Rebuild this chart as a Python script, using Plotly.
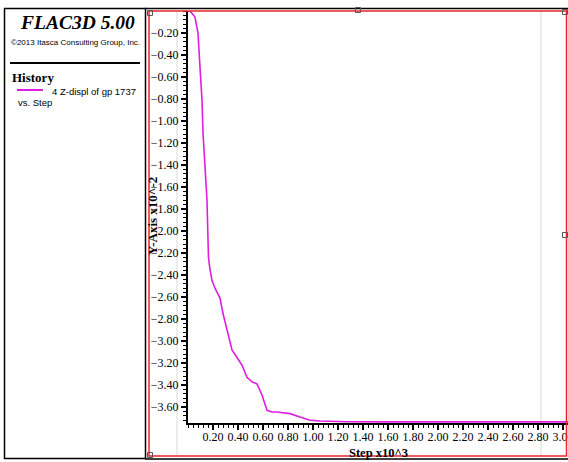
import plotly.graph_objects as go

# Data (step in 10^3, Z-displacement in 10^-2)
step_k = [0.0, 0.016, 0.056, 0.08, 0.096, 0.112, 0.12, 0.136, 0.152, 0.16, 0.164,
          0.176, 0.192, 0.216, 0.256, 0.28, 0.312, 0.352, 0.392, 0.432, 0.472,
          0.512, 0.552, 0.592, 0.632, 0.672, 0.712, 0.816, 0.896, 0.976, 1.056,
          1.272, 1.6, 2.0, 2.5, 3.04]
zdisp = [0.0, 0.0, -0.055, -0.20, -0.51, -0.81, -1.11, -1.42, -1.72, -2.08, -2.24,
         -2.35, -2.45, -2.52, -2.61, -2.75, -2.90, -3.08, -3.15, -3.22, -3.33,
         -3.37, -3.39, -3.49, -3.63, -3.645, -3.645, -3.66, -3.69, -3.72, -3.727,
         -3.734, -3.735, -3.735, -3.735, -3.735]

x_tickvals = [0.2, 0.4, 0.6, 0.8, 1.0, 1.2, 1.4, 1.6, 1.8, 2.0, 2.2, 2.4, 2.6, 2.8, 3.0]
y_tickvals = [-0.2, -0.4, -0.6, -0.8, -1.0, -1.2, -1.4, -1.6, -1.8, -2.0, -2.2, -2.4,
              -2.6, -2.8, -3.0, -3.2, -3.4, -3.6]

W, H = 568, 462
def px(x):
    return x / W
def py(y):
    return (H - y) / H

SERIF = "Liberation Serif, Times New Roman, serif"
SANS = "Liberation Sans Narrow, Arial Narrow, Liberation Sans, Arial, sans-serif"
MAG = "#e01ee0"

fig = go.Figure()
fig.add_trace(go.Scatter(x=step_k, y=zdisp, mode="lines",
                         line=dict(color=MAG, width=1.6), showlegend=False,
                         hoverinfo="skip"))

shapes = []
# faint grey vertical lines
for xx in (177, 541):
    shapes.append(dict(type="line", xref="paper", yref="paper", x0=px(xx), x1=px(xx),
                       y0=py(455), y1=py(11), line=dict(color="#d8d8d8", width=1), layer="below"))
# black frame lines
shapes.append(dict(type="rect", xref="paper", yref="paper", x0=px(4.5), x1=px(145.5),
                   y0=py(458.5), y1=py(8.5), line=dict(color="black", width=1.5)))
shapes.append(dict(type="line", xref="paper", yref="paper", x0=px(145), x1=1,
                   y0=py(8.5), y1=py(8.5), line=dict(color="black", width=1.5)))
shapes.append(dict(type="line", xref="paper", yref="paper", x0=px(145), x1=1,
                   y0=py(459), y1=py(459), line=dict(color="black", width=1.5)))
# red frame
shapes.append(dict(type="rect", xref="paper", yref="paper", x0=px(149), x1=px(566.5),
                   y0=py(456), y1=py(11), line=dict(color="#e8262b", width=1.5)))
# separator line in left panel
shapes.append(dict(type="line", xref="paper", yref="paper", x0=px(10), x1=px(140),
                   y0=py(63), y1=py(63), line=dict(color="black", width=2)))
# legend line
shapes.append(dict(type="line", xref="paper", yref="paper", x0=px(17), x1=px(43),
                   y0=py(90), y1=py(90), line=dict(color=MAG, width=2)))
# selection handles
for hx, hy in [(150, 13), (150, 455), (358, 10), (565, 235), (565, 12)]:
    shapes.append(dict(type="rect", xref="paper", yref="paper", x0=px(hx - 2.5), x1=px(hx + 2.5),
                       y0=py(hy + 2.5), y1=py(hy - 2.5), line=dict(color="#555555", width=1),
                       fillcolor="rgba(255,255,255,0)"))

annotations = [
    dict(text="<b><i>FLAC3D 5.00</i></b>", x=px(77), y=py(22), xref="paper", yref="paper",
         showarrow=False, font=dict(family=SERIF, size=19.5, color="black"), xanchor="center", yanchor="middle"),
    dict(text="©2013 Itasca Consulting Group, Inc.", x=px(75), y=py(42), xref="paper", yref="paper",
         showarrow=False, font=dict(family=SANS, size=8, color="black"), xanchor="center", yanchor="middle"),
    dict(text="<b>History</b>", x=px(10), y=py(78), xref="paper", yref="paper",
         showarrow=False, font=dict(family=SERIF, size=13, color="black"), xanchor="left", yanchor="middle"),
    dict(text="4 Z-displ of gp 1737", x=px(50), y=py(91), xref="paper", yref="paper",
         showarrow=False, font=dict(family=SANS, size=9.5, color="black"), xanchor="left", yanchor="middle"),
    dict(text="vs. Step", x=px(16), y=py(103), xref="paper", yref="paper",
         showarrow=False, font=dict(family=SANS, size=9.5, color="black"), xanchor="left", yanchor="middle"),
    dict(text="<b>Y-Axis x10^-2</b>", x=px(152), y=py(216), xref="paper", yref="paper",
         showarrow=False, textangle=-90, font=dict(family=SERIF, size=13, color="black"),
         xanchor="center", yanchor="middle"),
    dict(text="<b>Step x10^3</b>", x=px(378), y=py(453), xref="paper", yref="paper",
         showarrow=False, font=dict(family=SERIF, size=12.5, color="black"), xanchor="center", yanchor="middle"),
]

fig.update_layout(
    width=W, height=H, margin=dict(l=0, r=0, t=0, b=0, autoexpand=False),
    paper_bgcolor="white", plot_bgcolor="white",
    shapes=shapes, annotations=annotations,
    xaxis=dict(domain=[px(188), 1.0], range=[0, 3.04], showgrid=False, zeroline=False,
               showline=True, linecolor="black", linewidth=2, ticks="outside", ticklen=5,
               tickwidth=1.5, tickcolor="black", tickvals=x_tickvals, tickformat=".2f",
               ticklabeloverflow="allow", ticklabelstandoff=-3, automargin=False,
               tickfont=dict(family=SERIF, size=12, color="black"), layer="below traces",
               minor=dict(ticks="outside", ticklen=3, dtick=0.04, tick0=0, tickcolor="black", tickwidth=1.2)),
    yaxis=dict(domain=[py(423), py(11)], range=[-3.745, 0], showgrid=False, zeroline=False,
               showline=True, linecolor="black", linewidth=2, ticks="outside", ticklen=5,
               tickwidth=1.5, tickcolor="black", tickvals=y_tickvals, tickformat=".2f",
               automargin=False,
               tickfont=dict(family=SERIF, size=12, color="black"), layer="below traces",
               minor=dict(ticks="outside", ticklen=3, dtick=0.04, tick0=0, tickcolor="black", tickwidth=1.2)),
)

fig.write_html("out.html")
